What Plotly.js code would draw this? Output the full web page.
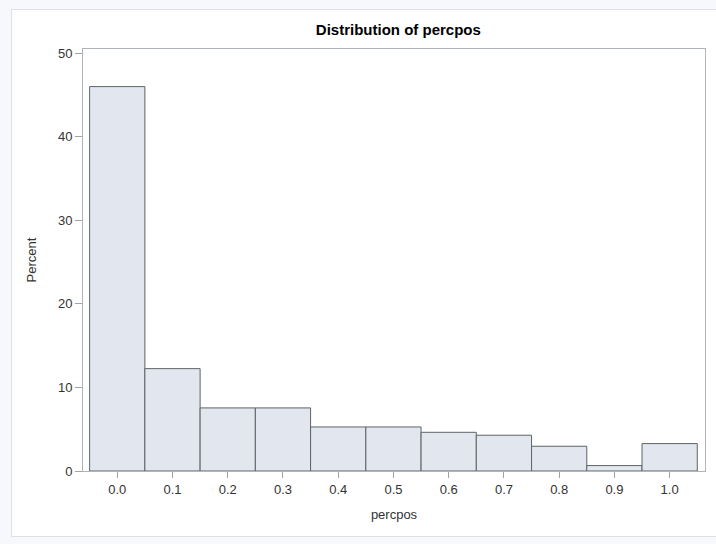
<!DOCTYPE html>
<html>
<head>
<meta charset="utf-8">
<script src="https://cdn.plot.ly/plotly-3.0.1.min.js"></script>
<style>
  html, body { margin: 0; padding: 0; background: #f7f8fb; width: 716px; height: 544px; overflow: hidden; }
  #frame { position: absolute; left: 11px; top: 9px; width: 705px; height: 526px; background: #ffffff;
           border-left: 1px solid #dde0e4; border-top: 1px solid #dde0e4; border-bottom: 1px solid #dde0e4; }
  #chart { width: 705px; height: 526px; }
</style>
</head>
<body>
<div id="frame"><div id="chart"></div></div>
<script>
// Histogram bin midpoints (percpos) and percent per bin
const binMidpoints = [0.0, 0.1, 0.2, 0.3, 0.4, 0.5, 0.6, 0.7, 0.8, 0.9, 1.0];
const percentValues = [46.0, 12.25, 7.55, 7.55, 5.27, 5.27, 4.63, 4.28, 2.96, 0.65, 3.28];
const xTickLabels = ["0.0", "0.1", "0.2", "0.3", "0.4", "0.5", "0.6", "0.7", "0.8", "0.9", "1.0"];
const yTickValues = [0, 10, 20, 30, 40, 50];

const font = "Arial, 'Liberation Sans', sans-serif";

const trace = {
  type: "bar",
  x: binMidpoints,
  y: percentValues,
  width: 0.1,
  marker: { color: "#e1e6ef", line: { color: "#5f6366", width: 1 } },
  hoverinfo: "x+y"
};

const layout = {
  width: 705,
  height: 526,
  margin: { l: 71, r: 12, t: 39, b: 65 },
  paper_bgcolor: "#ffffff",
  plot_bgcolor: "#ffffff",
  showlegend: false,
  bargap: 0,
  title: {
    text: "<b>Distribution of percpos</b>",
    font: { family: font, size: 15, color: "#000000" },
    x: 0.548, xanchor: "center",
    y: 0.962, yanchor: "middle"
  },
  xaxis: {
    range: [-0.062, 1.064],
    tickvals: binMidpoints,
    ticktext: xTickLabels,
    ticks: "outside", ticklen: 6, tickcolor: "#a0a4a8", tickwidth: 1,
    showline: true, mirror: true, linecolor: "#aeb4ba", linewidth: 1,
    showgrid: false, zeroline: false,
    tickfont: { family: font, size: 13, color: "#333333" },
    title: { text: "percpos", font: { family: font, size: 13, color: "#333333" }, standoff: 14 }
  },
  yaxis: {
    range: [0, 50.5],
    tickvals: yTickValues,
    ticks: "outside", ticklen: 7, tickcolor: "#a0a4a8", tickwidth: 1,
    showline: true, mirror: true, linecolor: "#aeb4ba", linewidth: 1,
    showgrid: false, zeroline: false,
    tickfont: { family: font, size: 13, color: "#333333" },
    title: { text: "Percent", font: { family: font, size: 13, color: "#333333" }, standoff: 18 }
  }
};

Plotly.newPlot("chart", [trace], layout, { displayModeBar: false, staticPlot: true });
</script>
</body>
</html>
